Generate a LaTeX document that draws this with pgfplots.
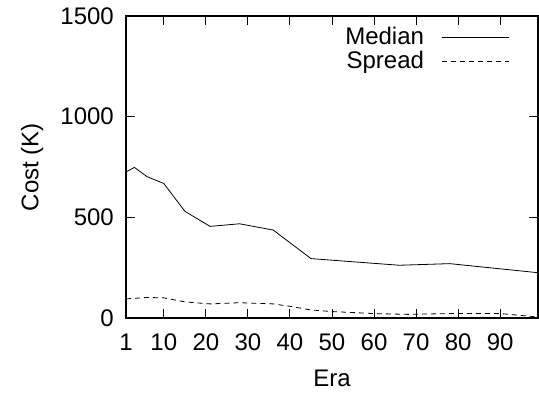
\documentclass[border=0pt]{standalone}
\usepackage{pgfplots}
\pgfplotsset{compat=1.18}
\usepackage{fontspec}
\setmainfont{Liberation Sans}
\begin{document}
\fontsize{24bp}{28bp}\selectfont
\begin{tikzpicture}
\useasboundingbox (-126bp,-75bp) rectangle (413bp,318bp);
\begin{axis}[
  at={(0,0)}, anchor=south west,
  scale only axis, width=412bp, height=302bp,
  xmin=1, xmax=99, ymin=0, ymax=1500,
  xtick={1,10,20,30,40,50,60,70,80,90},
  ytick={0,500,1000,1500},
  tick align=inside,
  major tick length=9bp,
  axis line style={line width=1.2bp},
  every tick/.style={black, line width=1bp},
  /pgf/number format/assume math mode=true,
  ticklabel style={font=\fontsize{24bp}{28bp}\selectfont},
  xticklabel style={yshift=-8bp},
  yticklabel style={xshift=-4bp},
  scaled ticks=false,
  /pgf/number format/set thousands separator={},
  xlabel={Era}, ylabel={Cost (K)},
  label style={font=\fontsize{24bp}{28bp}\selectfont},
  xlabel style={at={(axis description cs:0.5,-0.1987)}, anchor=center},
  ylabel style={at={(axis description cs:-0.228,0.5)}, anchor=center},
  legend style={at={(axis description cs:0.932,0.97)}, anchor=north east,
    draw=none, fill=none, font=\fontsize{24bp}{28bp}\selectfont,
    inner sep=0pt, row sep=-1bp},
  legend cell align=right,
  legend plot pos=right,
  legend image code/.code={\draw[#1] (0bp,0bp) -- (67bp,0bp);},
  clip=true,
]
\addplot[black, line width=0.8bp, mark=none] coordinates {
(1,725) (3,748) (6,702) (10,668) (15,530) (21,455) (28,468) (36,437) (45,295) (66,262) (78,270) (99,225)
};
\addlegendentry{Median\kern16bp}
\addplot[black, line width=0.8bp, mark=none, dash pattern=on 5bp off 4bp] coordinates {
(1,95) (6,102) (10,100) (15,80) (21,70) (28,76) (36,70) (40,58) (45,40) (50,32) (60,22) (68,18) (78,22) (90,22) (99,5)
};
\addlegendentry{Spread\kern16bp}
\end{axis}
\end{tikzpicture}
\end{document}
